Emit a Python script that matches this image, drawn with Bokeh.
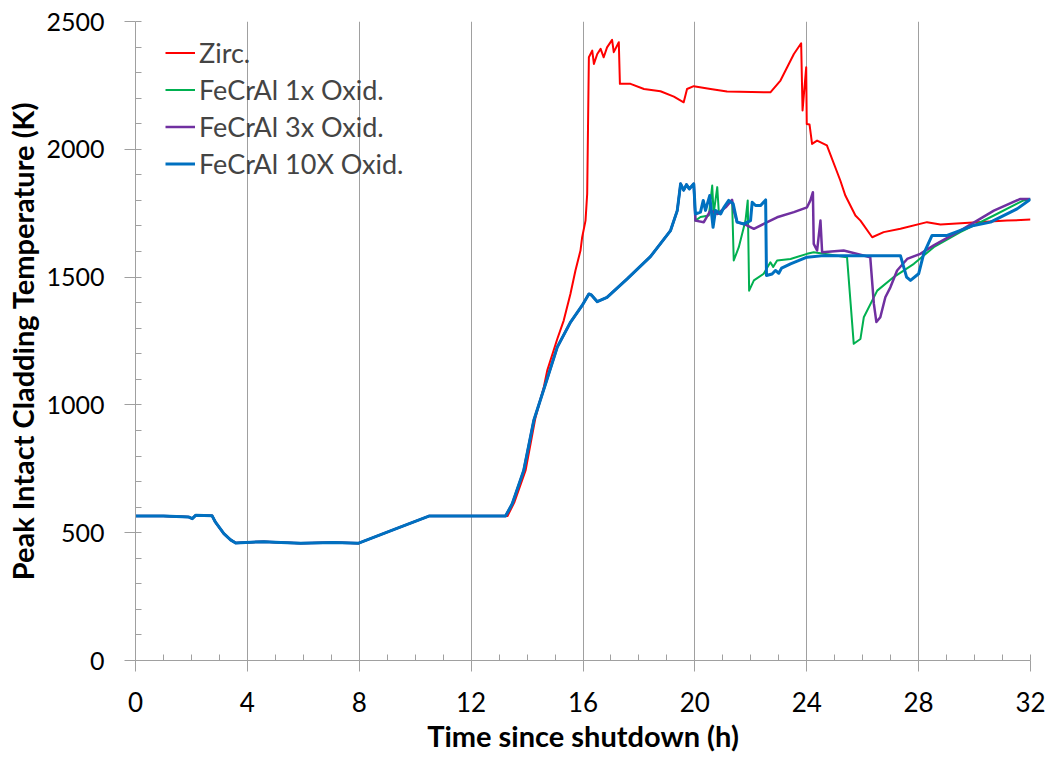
from bokeh.plotting import figure
from bokeh.models import Range1d, Legend, LegendItem, SingleIntervalTicker
from bokeh.embed import file_html
from bokeh.resources import INLINE

# ---------------- data ----------------
# common start for all four cases (h, K)
shared_time = [0.0, 1.0, 1.91, 2.03, 2.15, 2.74, 2.86, 3.16, 3.4, 3.58, 4.59, 5.2, 5.9, 7.09, 7.98,
               9.3, 10.49, 13.23]
shared_temp = [565, 565, 561, 555, 568, 566, 541, 496, 472, 460, 465, 462, 459, 462, 459,
               515, 565, 565]

# common FeCrAl heat-up (identical for the three FeCrAl cases)
fecral_rise_time = [13.47, 13.88, 14.24, 14.66, 15.08, 15.55, 15.97, 16.21, 16.3, 16.51, 16.86,
                    17.58, 18.41, 19.13, 19.37, 19.49, 19.6, 19.7, 19.8, 19.96]
fecral_rise_temp = [613, 743, 939, 1082, 1226, 1323, 1389, 1434, 1430, 1404, 1421,
                    1493, 1580, 1682, 1760, 1865, 1840, 1862, 1845, 1865]

zirc_tail_time = [13.3, 13.55, 13.95, 14.3, 14.6, 14.72, 15.08, 15.31, 15.55, 15.73, 15.91, 15.97,
                  16.09, 16.15, 16.21, 16.33, 16.39, 16.51, 16.63, 16.74, 16.86, 17.04, 17.1,
                  17.28, 17.32, 17.7, 18.18, 18.77, 19.25, 19.6, 19.72, 19.96, 20.56, 21.15,
                  22.7, 23.06, 23.54, 23.8, 23.85, 23.98, 24.0, 24.1, 24.19, 24.37, 24.72,
                  25.2, 25.38, 25.74, 25.92, 26.34, 26.75, 27.35, 28.3, 28.78, 30.09, 31.16, 32.0]
zirc_tail_temp = [565, 620, 745, 950, 1070, 1134, 1258, 1330, 1434, 1526, 1604, 1656,
                  1721, 1826, 2360, 2386, 2334, 2373, 2393, 2360, 2399, 2428, 2380,
                  2419, 2256, 2256, 2236, 2227, 2206, 2184, 2236, 2247, 2236, 2226,
                  2223, 2269, 2373, 2415, 2152, 2321, 2099, 2097, 2021, 2034, 2015,
                  1878, 1819, 1741, 1721, 1656, 1676, 1689, 1715, 1706, 1715, 1721, 1725]

ox1_tail_time = [20.02, 20.2, 20.5, 20.62, 20.67, 20.8, 20.86, 21.15, 21.33, 21.39, 21.57, 21.81,
                 21.89, 21.94, 22.11, 22.46, 22.7, 22.8, 22.94, 23.42, 24.01, 24.25, 25.44,
                 25.57, 25.68, 25.92, 26.04, 26.52, 27.11, 27.83, 28.54, 29.49, 30.69, 31.75, 32.0]
ox1_tail_temp = [1721, 1735, 1741, 1858, 1747, 1852, 1747, 1787, 1800, 1565, 1617, 1721,
                 1800, 1447, 1487, 1513, 1558, 1540, 1565, 1571, 1591, 1597, 1578,
                 1395, 1239, 1258, 1343, 1447, 1500, 1552, 1617, 1676, 1741, 1800, 1805]

ox3_tail_time = [20.02, 20.32, 20.56, 20.8, 21.1, 21.33, 21.39, 21.51, 21.75, 22.11, 22.46, 22.94,
                 23.54, 24.01, 24.13, 24.22, 24.25, 24.37, 24.49, 24.55, 25.32, 26.27, 26.4,
                 26.49, 26.63, 26.81, 26.99, 27.23, 27.59, 28.06, 28.54, 29.49, 30.09, 30.69,
                 31.64, 32.0]
ox3_tail_temp = [1721, 1715, 1761, 1747, 1773, 1802, 1761, 1715, 1708, 1689, 1708, 1734,
                 1754, 1773, 1800, 1832, 1630, 1604, 1721, 1597, 1604, 1578, 1395,
                 1324, 1343, 1421, 1460, 1526, 1571, 1591, 1624, 1682, 1721, 1760,
                 1806, 1806]

ox10_tail_time = [20.02, 20.2, 20.3, 20.38, 20.53, 20.65, 20.74, 20.92, 21.04, 21.21, 21.37, 21.51,
                  21.75, 21.99, 22.05, 22.17, 22.35, 22.53, 22.56, 22.76, 22.88, 23.0, 23.1,
                  23.42, 24.01, 24.61, 25.57, 26.16, 27.35, 27.57, 27.71, 28.0, 28.18, 28.48,
                  28.9, 29.02, 29.97, 30.57, 31.52, 32.0]
ox10_tail_temp = [1747, 1754, 1800, 1761, 1819, 1695, 1761, 1747, 1773, 1800, 1787, 1715,
                  1708, 1721, 1793, 1780, 1780, 1802, 1506, 1512, 1526, 1515, 1535,
                  1552, 1578, 1584, 1584, 1584, 1584, 1500, 1487, 1513, 1591, 1663,
                  1663, 1663, 1702, 1715, 1767, 1805]

series_names = ["Zirc.", "FeCrAl 1x Oxid.", "FeCrAl 3x Oxid.", "FeCrAl 10X Oxid."]
series_colors = ["#FF0000", "#00B050", "#7030A0", "#0070C0"]
series_widths = [2, 2, 2.5, 3]

x_ticks_interval = 4
y_ticks_interval = 500

series_time = [
    shared_time + zirc_tail_time,
    shared_time + fecral_rise_time + ox1_tail_time,
    shared_time + fecral_rise_time + ox3_tail_time,
    shared_time + fecral_rise_time + ox10_tail_time,
]
series_temp = [
    shared_temp + zirc_tail_temp,
    shared_temp + fecral_rise_temp + ox1_tail_temp,
    shared_temp + fecral_rise_temp + ox3_tail_temp,
    shared_temp + fecral_rise_temp + ox10_tail_temp,
]

# ---------------- figure ----------------
FONT = "Lato"
AX_COL = "#a0a0a0"

p = figure(width=1050, height=758, output_backend="svg", toolbar_location=None,
           x_range=Range1d(0, 32), y_range=Range1d(0, 2500),
           min_border_left=135, min_border_right=20, min_border_top=21, min_border_bottom=98)
p.outline_line_color = None
p.background_fill_color = "white"
p.border_fill_color = "white"

renderers = []
for t, T, c, w in zip(series_time, series_temp, series_colors, series_widths):
    r = p.line(t, T, line_color=c, line_width=w, line_join="round")
    renderers.append(r)

xt = SingleIntervalTicker(interval=x_ticks_interval, num_minor_ticks=4)
yt = SingleIntervalTicker(interval=y_ticks_interval, num_minor_ticks=5)
p.xaxis.ticker = xt
p.yaxis.ticker = yt
p.xgrid.ticker = xt
p.xgrid.grid_line_color = AX_COL
p.xgrid.grid_line_width = 1
p.ygrid.visible = False

for ax in (p.xaxis[0], p.yaxis[0]):
    ax.axis_line_color = AX_COL
    ax.major_tick_line_color = AX_COL
    ax.minor_tick_line_color = AX_COL
    ax.major_tick_in = 0
    ax.major_tick_out = 11
    ax.minor_tick_in = 6
    ax.minor_tick_out = 0
    ax.major_label_text_font = FONT
    ax.major_label_text_font_size = "26px"
    ax.major_label_text_color = "black"
    ax.axis_label_text_font = FONT
    ax.axis_label_text_font_style = "bold"
    ax.axis_label_text_color = "black"

p.yaxis.major_label_text_font_size = "25px"
p.xaxis.axis_label = "Time since shutdown (h)"
p.yaxis.axis_label = "Peak Intact Cladding Temperature (K)"
p.xaxis.axis_label_text_font_size = "29px"
p.yaxis.axis_label_text_font_size = "29px"
p.xaxis.major_label_standoff = 20
p.yaxis.major_label_standoff = 20
p.xaxis.axis_label_standoff = 3
p.yaxis.axis_label_standoff = 3

items = [LegendItem(label=n, renderers=[r]) for n, r in zip(series_names, renderers)]
legend = Legend(items=items, location=(30, 478))
legend.border_line_color = None
legend.background_fill_alpha = 0
legend.padding = 0
legend.margin = 0
legend.spacing = 0
legend.glyph_width = 30
legend.glyph_height = 37
legend.label_height = 37
legend.label_standoff = 4
legend.label_text_font = FONT
legend.label_text_font_size = "27px"
p.add_layout(legend)

open("out.html", "w").write(file_html(p, INLINE))
